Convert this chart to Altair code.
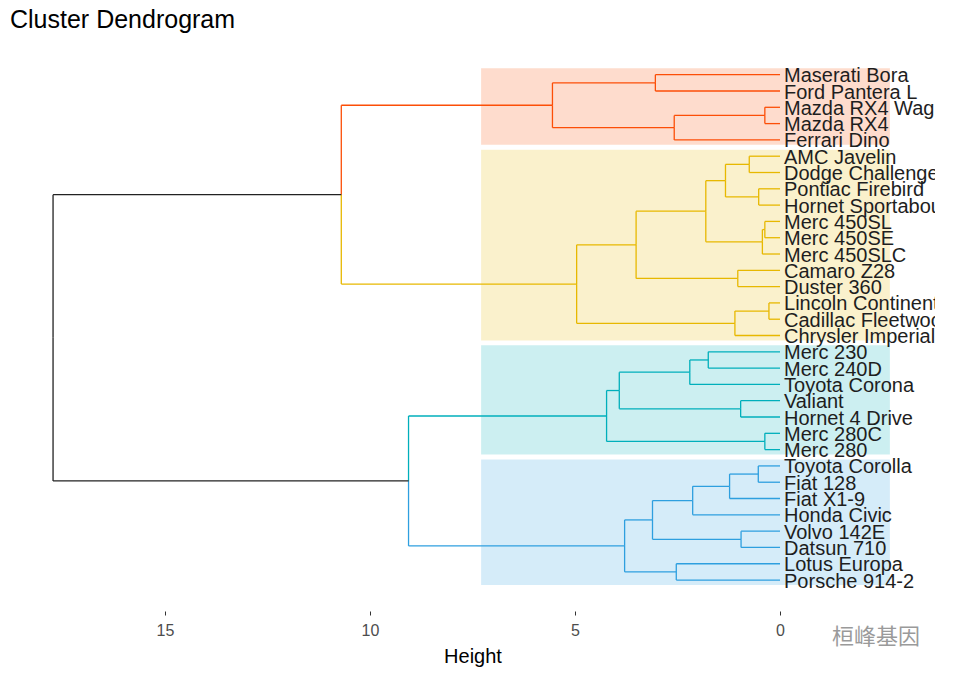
import altair as alt
import pandas as pd

# ---- data -------------------------------------------------------------
LEAVES = [
    "Maserati Bora", "Ford Pantera L", "Mazda RX4 Wag", "Mazda RX4", "Ferrari Dino",
    "AMC Javelin", "Dodge Challenger", "Pontiac Firebird", "Hornet Sportabout",
    "Merc 450SL", "Merc 450SE", "Merc 450SLC", "Camaro Z28", "Duster 360",
    "Lincoln Continental", "Cadillac Fleetwood", "Chrysler Imperial",
    "Merc 230", "Merc 240D", "Toyota Corona", "Valiant", "Hornet 4 Drive",
    "Merc 280C", "Merc 280",
    "Toyota Corolla", "Fiat 128", "Fiat X1-9", "Honda Civic", "Volvo 142E",
    "Datsun 710", "Lotus Europa", "Porsche 914-2",
]
LEAF_CLUSTER = ["c1"] * 5 + ["c2"] * 12 + ["c3"] * 7 + ["c4"] * 8

CLUSTERS = ["c1", "c2", "c3", "c4"]
CLUSTER_COLORS = ["#FC4E07", "#E7B800", "#00AFBB", "#2E9FDF"]

# merges: name, left child, right child, height
MERGE_NAME = ["r1", "r2", "r3", "R",
              "y1", "y2", "y3", "y4", "y5", "y6", "y7", "y8", "y9", "y10", "Y",
              "RY",
              "k1", "k2", "k3", "k4", "k5", "C",
              "b1", "b2", "b3", "b4", "b5", "b6", "B",
              "CB", "ROOT"]
MERGE_LEFT = ["Maserati Bora", "Mazda RX4 Wag", "r2", "r1",
              "AMC Javelin", "Pontiac Firebird", "y1", "Merc 450SL", "y4", "y3",
              "Camaro Z28", "y6", "Lincoln Continental", "y9", "y8",
              "R",
              "Merc 230", "k1", "Valiant", "k2", "Merc 280C", "k4",
              "Toyota Corolla", "b1", "b2", "Volvo 142E", "b3", "Lotus Europa", "b5",
              "C", "RY"]
MERGE_RIGHT = ["Ford Pantera L", "Mazda RX4", "Ferrari Dino", "r3",
               "Dodge Challenger", "Hornet Sportabout", "y2", "Merc 450SE", "Merc 450SLC", "y5",
               "Duster 360", "y7", "Cadillac Fleetwood", "Chrysler Imperial", "y10",
               "Y",
               "Merc 240D", "Toyota Corona", "Hornet 4 Drive", "k3", "Merc 280", "k5",
               "Fiat 128", "Fiat X1-9", "Honda Civic", "Datsun 710", "b4", "Porsche 914-2", "b6",
               "B", "CB"]
MERGE_HEIGHT = [3.04, 0.37, 2.58, 5.55,
                0.75, 0.52, 1.33, 0.37, 0.43, 1.81, 1.03, 3.51, 0.27, 1.10, 4.96,
                10.70,
                1.75, 2.20, 0.96, 3.92, 0.37, 4.23,
                0.53, 1.23, 2.13, 0.95, 3.11, 2.53, 3.79,
                9.06, 17.73]

RECT_HIGH = 7.29
RECT_LOW = -2.68

TICKS = [0, 5, 10, 15]

# ---- build tree geometry from the data ----------------------------------
node_y, node_h, node_cl = {}, {}, {}
for i, (leaf, cl) in enumerate(zip(LEAVES, LEAF_CLUSTER)):
    node_y[leaf] = float(i)
    node_h[leaf] = 0.0
    node_cl[leaf] = {cl}
for name, left, right, h in zip(MERGE_NAME, MERGE_LEFT, MERGE_RIGHT, MERGE_HEIGHT):
    node_y[name] = (node_y[left] + node_y[right]) / 2
    node_h[name] = h
    node_cl[name] = node_cl[left] | node_cl[right]

segs = []
for name, left, right, h in zip(MERGE_NAME, MERGE_LEFT, MERGE_RIGHT, MERGE_HEIGHT):
    for child in (left, right):
        cl = node_cl[child]
        col = next(iter(cl)) if len(cl) == 1 else "none"
        segs.append(dict(x=h, x2=h, y=node_y[name], y2=node_y[child], grp=col))
        segs.append(dict(x=h, x2=node_h[child], y=node_y[child], y2=node_y[child], grp=col))
seg_df = pd.DataFrame(segs)

leaf_df = pd.DataFrame({"name": LEAVES, "y": [float(i) for i in range(len(LEAVES))],
                        "x": [0.0] * len(LEAVES)})

rect_rows = []
for cl in CLUSTERS:
    idx = [i for i, c in enumerate(LEAF_CLUSTER) if c == cl]
    rect_rows.append(dict(grp=cl, y=min(idx) - 0.4, y2=max(idx) + 0.3,
                          x=RECT_HIGH, x2=RECT_LOW))
rect_df = pd.DataFrame(rect_rows)

# ---- scales -------------------------------------------------------------
xscale = alt.Scale(domain=[-3.78, 18.78], reverse=True, nice=False, zero=False)
yscale = alt.Scale(domain=[-1.822, 32.9], reverse=True, nice=False, zero=False)
cscale = alt.Scale(domain=CLUSTERS + ["none"], range=CLUSTER_COLORS + ["#222222"])

xaxis = alt.Axis(values=TICKS, title="Height", domain=False, grid=False,
                 tickColor="#333333", tickSize=4, tickWidth=1,
                 labelColor="#4D4D4D", labelFontSize=16, labelPadding=7,
                 titleFontSize=20, titleColor="#000000", titleFontWeight="normal",
                 titlePadding=8, format="d")
X = alt.X("x:Q", scale=xscale, axis=xaxis)
Y = alt.Y("y:Q", scale=yscale, axis=None)

rects = alt.Chart(rect_df).mark_rect(opacity=0.2).encode(
    x=X, x2="x2:Q", y=Y, y2="y2:Q",
    fill=alt.Fill("grp:N", scale=cscale, legend=None),
)

lines = alt.Chart(seg_df).mark_rule(strokeWidth=1.3).encode(
    x=X, x2="x2:Q", y=Y, y2="y2:Q",
    color=alt.Color("grp:N", scale=cscale, legend=None),
)

labels = alt.Chart(leaf_df).mark_text(
    align="left", baseline="middle", dx=4, dy=1.5, fontSize=20, color="#1E1E1E",
    font="Liberation Sans", clip=True,
).encode(x=X, y=Y, text="name:N")

watermark = alt.Chart(pd.DataFrame({"t": ["桓峰基因"]})).mark_text(
    align="left", baseline="middle", fontSize=22, color="#9A9A9A",
    font="Noto Sans CJK SC",
).encode(x=alt.value(822), y=alt.value(592), text="t:N")

chart = alt.layer(rects, lines, labels, watermark).properties(
    width=925,
    height=566,
    autosize=alt.AutoSizeParams(type="none"),
    padding={"left": 2, "top": 37, "right": 5, "bottom": 60},
    title=alt.Title("Cluster Dendrogram", anchor="start", frame="group", fontSize=25,
                    font="Liberation Sans", fontWeight="normal", color="#000000", offset=12),
).configure(font="Liberation Sans", view=alt.ViewConfig(stroke=None))

chart.save("out.html", embed_options={"renderer": "svg", "actions": False})
